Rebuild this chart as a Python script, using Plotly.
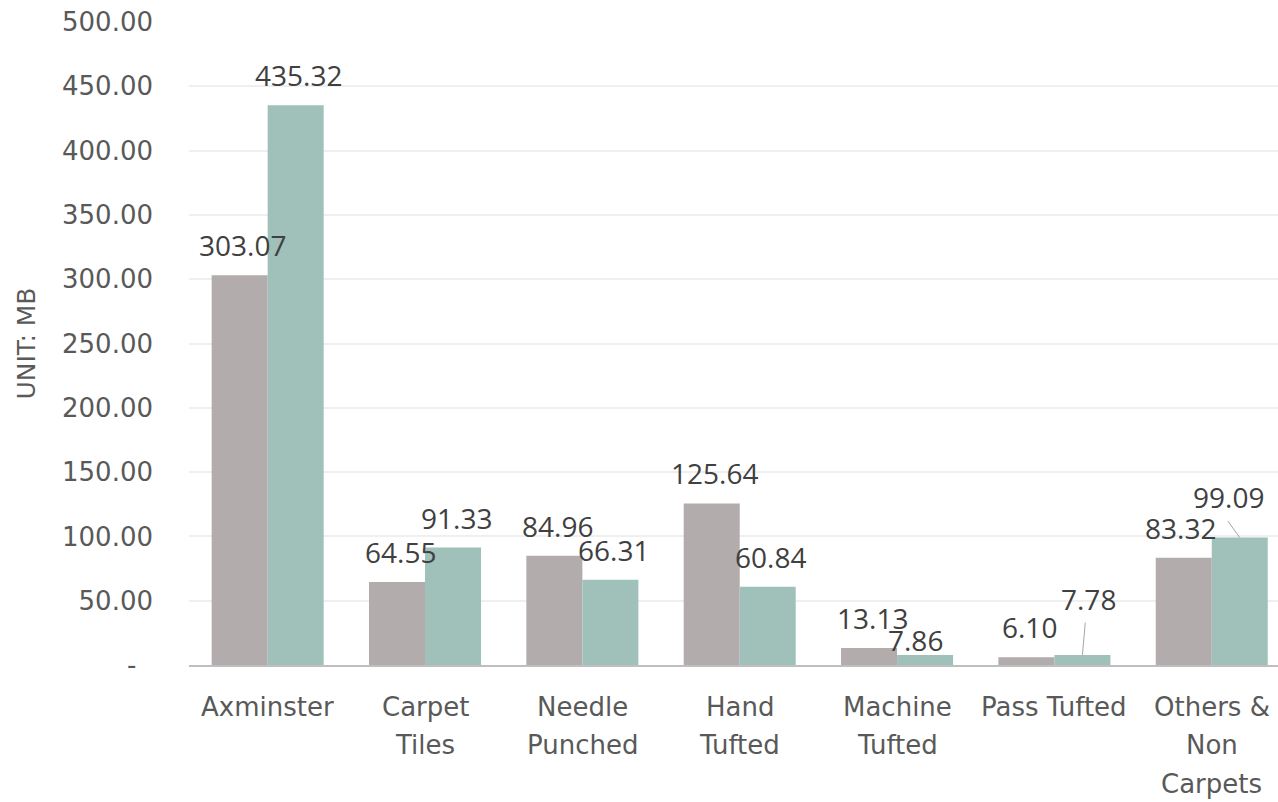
import plotly.graph_objects as go

# ---------------- data ----------------
categories = ["Axminster", "Carpet Tiles", "Needle Punched", "Hand Tufted",
              "Machine Tufted", "Pass Tufted", "Others & Non Carpets"]
category_lines = [["Axminster"], ["Carpet", "Tiles"], ["Needle", "Punched"], ["Hand", "Tufted"],
                  ["Machine", "Tufted"], ["Pass Tufted"], ["Others &", "Non", "Carpets"]]
series_a = [303.07, 64.55, 84.96, 125.64, 13.13, 6.10, 83.32]   # grey
series_b = [435.32, 91.33, 66.31, 60.84, 7.86, 7.78, 99.09]     # teal
y_tick_vals = [0, 50, 100, 150, 200, 250, 300, 350, 400, 450, 500]
y_tick_text = ["-\u00a0\u00a0", "50.00", "100.00", "150.00", "200.00", "250.00",
               "300.00", "350.00", "400.00", "450.00", "500.00"]
y_title = "UNIT: MB"

# ---------------- style / layout ----------------
W, H = 1278, 802
ML, MR, MT, MB = 189, 0, 22, 137
X_RANGE = [-0.5, 6.421]
BARGAP = 0.288
GREY = "#B2ACAC"
TEAL = "#A0C1BA"
LABEL_FONT = dict(family="Open Sans", size=28, color="#404040")
TICK_FONT = dict(family="DejaVu Sans", size=26, color="#595959")
CAT_FIRST = 41.5     # px below axis to centre of first label line
CAT_LINE = 38.5      # px between label lines

# label offsets (px) relative to bar top-centre: dx, dy(up)
dx_a = [3, 3, 3, 3, 3, 3, -3]
dy_a = [30, 30, 30, 30, 30, 30, 30]
dx_b = [3, 3, 3, 3, -10, 6, -11]
dy_b = [30, 30, 30, 30, 15, 56, 41]
# leader lines: (series, index, tail dx, tail dy(up))
leaders = [("b", 5, 3, 34), ("b", 6, -13, 18)]

plot_w = W - ML - MR
px_per_cat = plot_w / (X_RANGE[1] - X_RANGE[0])
bar_w = (1 - BARGAP) / 2 * px_per_cat

fig = go.Figure()
fig.add_trace(go.Bar(x=categories, y=series_a, marker=dict(color=GREY, line=dict(width=0)),
                     name="A", hoverinfo="skip"))
fig.add_trace(go.Bar(x=categories, y=series_b, marker=dict(color=TEAL, line=dict(width=0)),
                     name="B", hoverinfo="skip"))

annotations = []
for vals, dxs, dys, side in ((series_a, dx_a, dy_a, -1), (series_b, dx_b, dy_b, 1)):
    for i, v in enumerate(vals):
        annotations.append(dict(
            x=categories[i], y=v, xref="x", yref="y",
            text=f"{v:.2f}", showarrow=False,
            xanchor="center", yanchor="middle",
            xshift=side * bar_w / 2 + dxs[i],
            yshift=dys[i],
            font=LABEL_FONT,
        ))

for s, i, tdx, tdy in leaders:
    vals = series_b if s == "b" else series_a
    side = 1 if s == "b" else -1
    annotations.append(dict(
        x=categories[i], y=vals[i], xref="x", yref="y",
        text="", showarrow=True, arrowhead=0, arrowwidth=1, arrowcolor="#A6A6A6",
        ax=tdx, ay=-tdy, axref="pixel", ayref="pixel",
        xshift=side * bar_w / 2, standoff=0, startstandoff=0,
    ))

# category labels (one annotation per line so line spacing matches)
for cat, lines in zip(categories, category_lines):
    for j, line in enumerate(lines):
        annotations.append(dict(
            x=cat, y=0, xref="x", yref="paper", text=line, showarrow=False,
            xanchor="center", yanchor="middle",
            yshift=-(CAT_FIRST + CAT_LINE * j), font=TICK_FONT,
        ))

annotations.append(dict(
    text=y_title, xref="paper", yref="paper",
    x=(26 - ML) / plot_w, y=0.5,
    showarrow=False, textangle=-90, xanchor="center", yanchor="middle",
    font=dict(family="DejaVu Sans", size=25, color="#595959"),
))

fig.update_layout(
    width=W, height=H, autosize=False,
    margin=dict(l=ML, r=MR, t=MT, b=MB, pad=0),
    paper_bgcolor="white", plot_bgcolor="white",
    barmode="group", bargap=BARGAP, bargroupgap=0,
    showlegend=False,
    annotations=annotations,
    xaxis=dict(type="category", categoryarray=categories, range=X_RANGE, showline=True,
               linecolor="#BFBFBF", linewidth=2, ticks="", showgrid=False, zeroline=False,
               showticklabels=False),
    yaxis=dict(range=[0, 500], tickvals=y_tick_vals, ticktext=y_tick_text,
               showgrid=True, gridcolor="#EFEFEF", gridwidth=2, zeroline=False,
               showline=False, ticks="", tickfont=TICK_FONT, ticklabelstandoff=35),
)

fig.write_html("out.html")
